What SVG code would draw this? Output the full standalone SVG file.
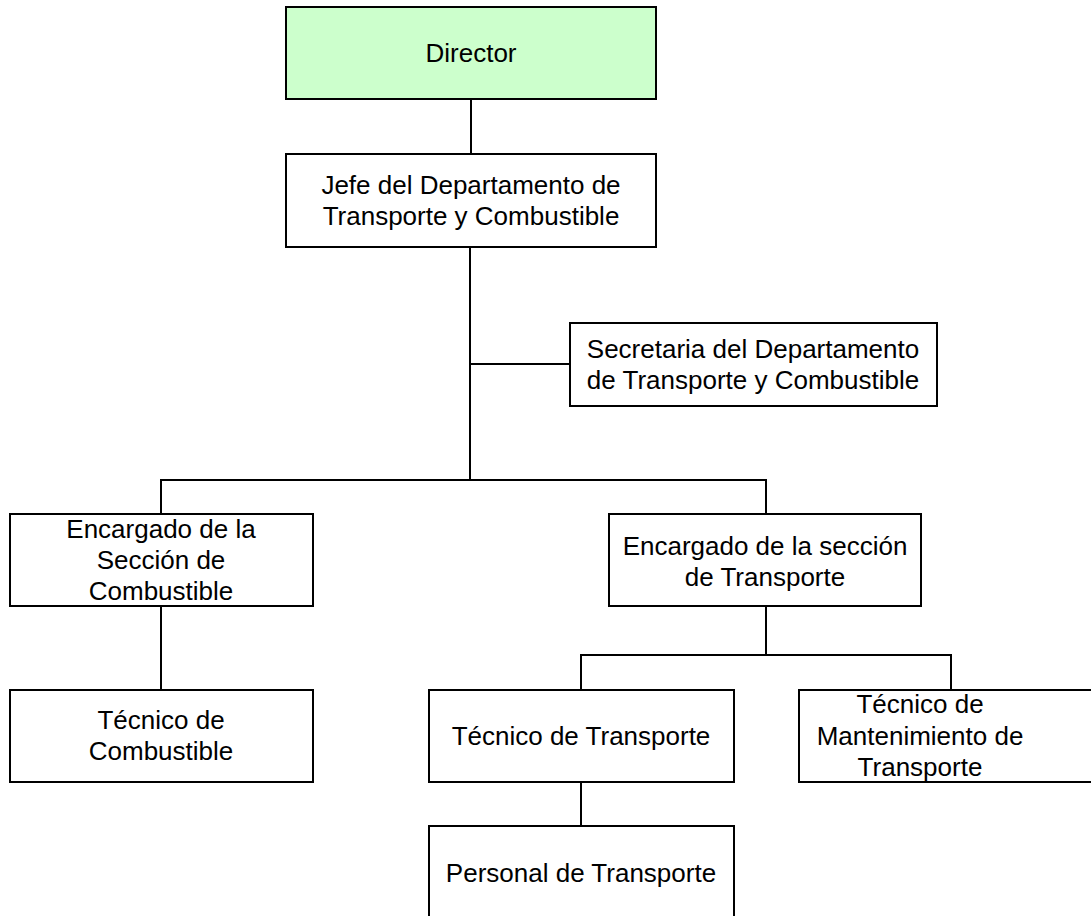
<svg xmlns="http://www.w3.org/2000/svg" width="1091" height="916" viewBox="0 0 1091 916">
  <style>
    .box { fill: #ffffff; stroke: #000000; stroke-width: 2; }
    .top { fill: #ccffcc; }
    .lbl { font-family: "Liberation Sans", Arial, sans-serif; font-size: 26px; fill: #000000; text-anchor: middle; }
    .wire { fill: none; stroke: #000000; stroke-width: 2; }
  </style>
  <rect width="1091" height="916" fill="#ffffff"/>

  <!-- connectors -->
  <g id="connectors" class="wire">
    <line x1="471" y1="99" x2="471" y2="154"/>
    <line x1="470" y1="247" x2="470" y2="481"/>
    <line x1="470" y1="364" x2="570" y2="364"/>
    <polyline points="161,514 161,480 766,480 766,514"/>
    <line x1="161" y1="606" x2="161" y2="690"/>
    <line x1="766" y1="606" x2="766" y2="655"/>
    <polyline points="581,690 581,655 951,655 951,690"/>
    <line x1="581" y1="782" x2="581" y2="826"/>
  </g>

  <g id="director">
    <rect class="box top" x="286" y="7" width="370" height="92"/>
    <text class="lbl" x="471" y="62">Director</text>
  </g>

  <g id="jefe">
    <rect class="box" x="286" y="154" width="370" height="93"/>
    <text class="lbl" x="471" y="194">Jefe del Departamento de</text>
    <text class="lbl" x="471" y="225">Transporte y Combustible</text>
  </g>

  <g id="secretaria">
    <rect class="box" x="570" y="323" width="367" height="83"/>
    <text class="lbl" x="753" y="358">Secretaria del Departamento</text>
    <text class="lbl" x="753" y="389">de Transporte y Combustible</text>
  </g>

  <g id="encargado-combustible">
    <rect class="box" x="10" y="514" width="303" height="92"/>
    <text class="lbl" x="161" y="538">Encargado de la</text>
    <text class="lbl" x="161" y="569">Sección de</text>
    <text class="lbl" x="161" y="600">Combustible</text>
  </g>

  <g id="encargado-transporte">
    <rect class="box" x="609" y="514" width="312" height="92"/>
    <text class="lbl" x="765" y="555">Encargado de la sección</text>
    <text class="lbl" x="765" y="586">de Transporte</text>
  </g>

  <g id="tecnico-combustible">
    <rect class="box" x="10" y="690" width="303" height="92"/>
    <text class="lbl" x="161" y="729">Técnico de</text>
    <text class="lbl" x="161" y="760">Combustible</text>
  </g>

  <g id="tecnico-transporte">
    <rect class="box" x="429" y="690" width="305" height="92"/>
    <text class="lbl" x="581" y="745">Técnico de Transporte</text>
  </g>

  <g id="tecnico-mantenimiento">
    <rect class="box" x="799" y="690" width="310" height="92"/>
    <text class="lbl" x="920" y="713">Técnico de</text>
    <text class="lbl" x="920" y="745">Mantenimiento de</text>
    <text class="lbl" x="920" y="776">Transporte</text>
  </g>

  <g id="personal-transporte">
    <rect class="box" x="429" y="826" width="305" height="92"/>
    <text class="lbl" x="581" y="882">Personal de Transporte</text>
  </g>
</svg>
